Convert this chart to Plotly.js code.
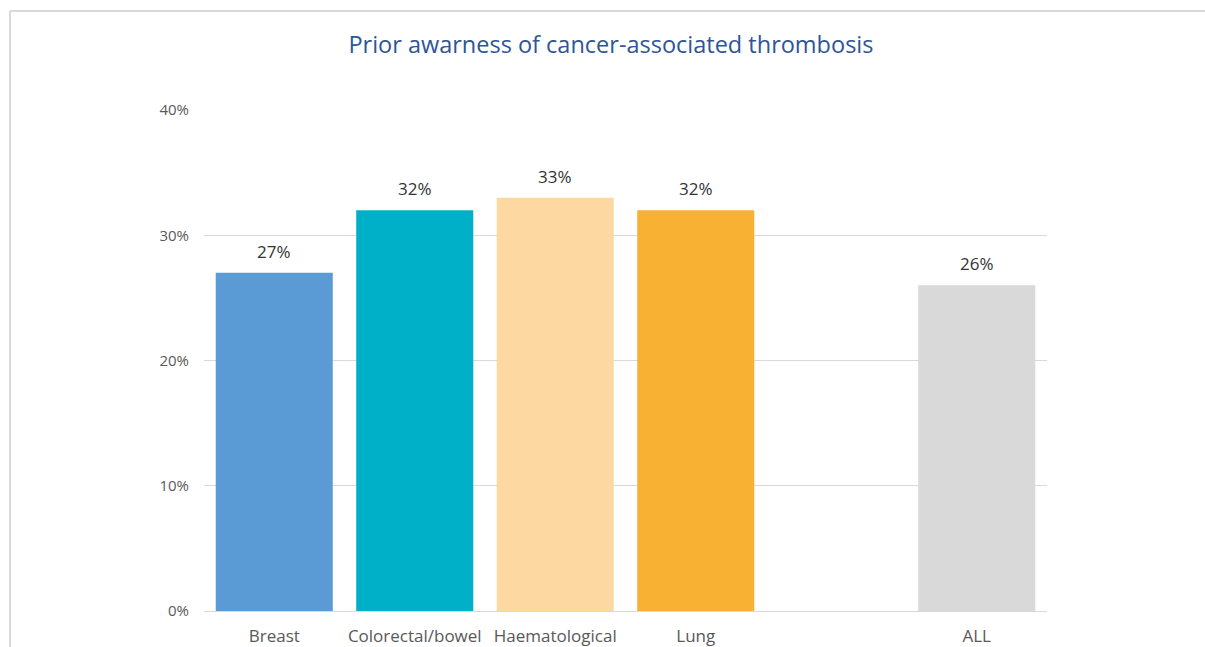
<!DOCTYPE html>
<html>
<head>
<meta charset="utf-8">
<script src="https://cdn.plot.ly/plotly-3.0.1.min.js"></script>
<style>
  html, body { margin: 0; padding: 0; background: #fff; }
  #chart { width: 1205px; height: 647px; }
</style>
</head>
<body>
<div id="chart"></div>
<script>
const categories = ['Breast', 'Colorectal/bowel', 'Haematological', 'Lung', ' ', 'ALL'];
const values = [0.27, 0.32, 0.33, 0.32, null, 0.26];
const barColors = ['#5B9BD5', '#00B0C8', '#FDD8A0', '#F8B133', '#FFFFFF', '#D9D9D9'];
const yTickVals = [0, 0.1, 0.2, 0.3, 0.4];
const yTickText = ['0%', '10%', '20%', '30%', '40%'];
const chartTitle = 'Prior awarness of cancer-associated thrombosis';

const font = '"Open Sans", "Noto Sans", sans-serif';

const trace = {
  type: 'bar',
  x: categories,
  y: values,
  marker: { color: barColors, line: { width: 0 } },
  hoverinfo: 'skip'
};

const annotations = [];
categories.forEach((c, i) => {
  if (values[i] === null) return;
  annotations.push({
    x: c, y: values[i], xref: 'x', yref: 'y',
    text: Math.round(values[i] * 100) + '%',
    showarrow: false, yanchor: 'bottom', yshift: 8,
    font: { family: font, size: 17, color: '#333333' }
  });
});

const layout = {
  width: 1205, height: 647,
  margin: { l: 204, r: 158, t: 110, b: 36 },
  paper_bgcolor: '#ffffff', plot_bgcolor: '#ffffff',
  showlegend: false,
  bargap: 0.167,
  title: {
    text: chartTitle,
    x: 0.507, xref: 'container', xanchor: 'center',
    y: 0.931, yref: 'container', yanchor: 'middle',
    font: { family: font, size: 23.5, color: '#2E5597' }
  },
  xaxis: {
    type: 'category',
    categoryorder: 'array', categoryarray: categories,
    showgrid: false, zeroline: false,
    showline: true, linecolor: '#D9D9D9', linewidth: 1,
    ticks: '', ticklabelstandoff: 10,
    tickfont: { family: font, size: 17, color: '#595959' },
    fixedrange: true
  },
  yaxis: {
    range: [0, 0.4],
    tickvals: yTickVals, ticktext: yTickText,
    showgrid: true, gridcolor: '#D9D9D9', gridwidth: 1,
    zeroline: false, showline: false,
    ticks: '', ticklabelstandoff: 14,
    tickfont: { family: font, size: 15, color: '#595959' },
    fixedrange: true
  },
  annotations: annotations,
  shapes: [
    { type: 'line', xref: 'paper', yref: 'paper', x0: -0.2301, x1: 1.3, y0: 1.1976, y1: 1.1976,
      line: { color: '#D9D9D9', width: 2 } },
    { type: 'line', xref: 'paper', yref: 'paper', x0: -0.2301, x1: -0.2301, y0: 1.1976, y1: -0.2,
      line: { color: '#D9D9D9', width: 2 } }
  ]
};

Plotly.newPlot('chart', [trace], layout, { displayModeBar: false, staticPlot: true });
</script>
</body>
</html>
